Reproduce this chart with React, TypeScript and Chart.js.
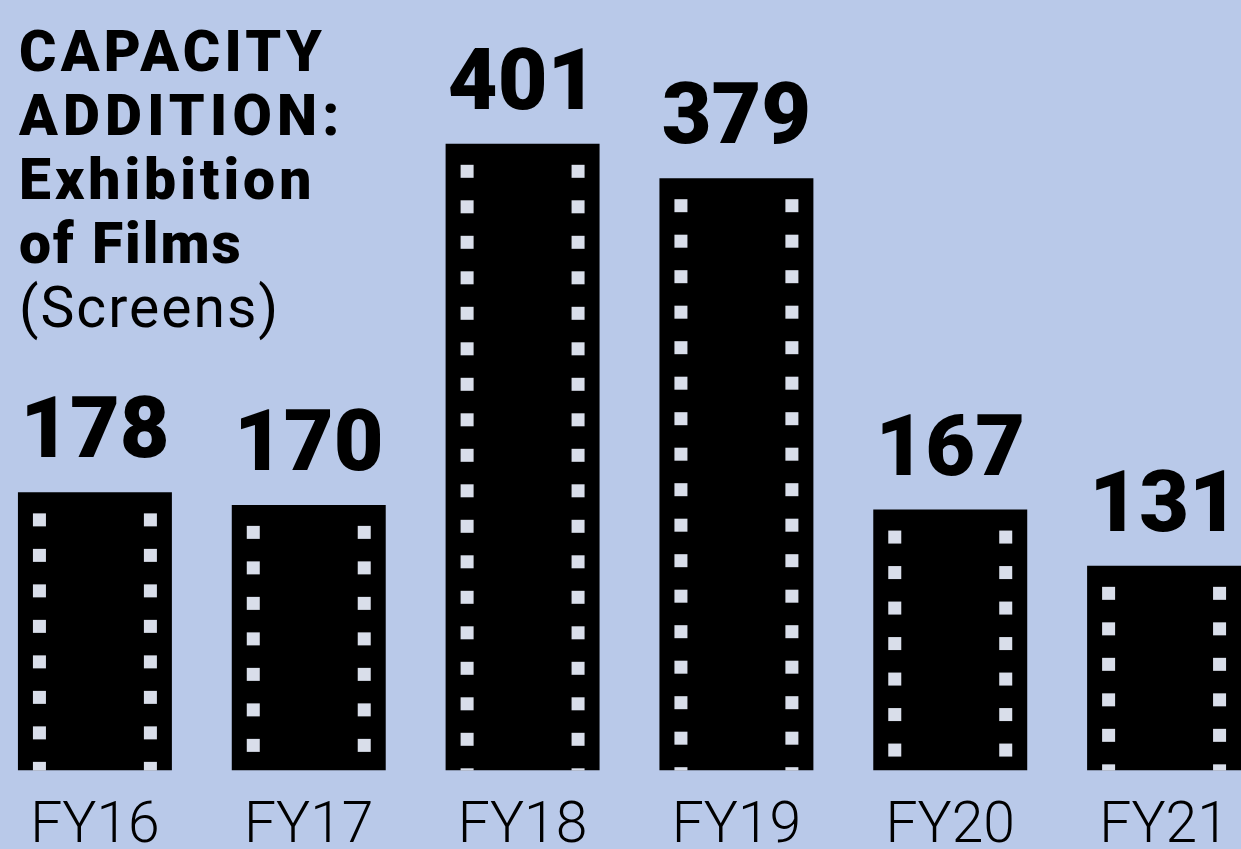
import React, { useEffect, useRef } from "react";
import { Chart, registerables } from "chart.js";

Chart.register(...registerables);

const categories = ["FY16", "FY17", "FY18", "FY19", "FY20", "FY21"];
const screens = [178, 170, 401, 379, 167, 131];
const titleBold = ["CAPACITY", "ADDITION:", "Exhibition", "of Films"];
const titleUnit = "(Screens)";

const BG = "#B9C9E9";
const titleSpacing = [4.3, 5.2, 4, 2];

const filmPlugin = {
  id: "film",
  afterDatasetsDraw(chart: any) {
    const ctx = chart.ctx;
    const meta = chart.getDatasetMeta(0);
    meta.data.forEach((bar: any, i: number) => {
      const p = bar.getProps(["x", "y", "base", "width"], true);
      const left = p.x - p.width / 2;
      const right = p.x + p.width / 2;
      const top = p.y;
      const bottom = p.base;
      ctx.save();
      ctx.beginPath();
      ctx.rect(left, top, right - left, bottom - top);
      ctx.clip();
      ctx.fillStyle = "#D9DEEA";
      const s = 13;
      for (let y = top + 21; y < bottom; y += 35.5) {
        ctx.fillRect(left + 15, y, s, s);
        ctx.fillRect(right - 15 - s, y, s, s);
      }
      ctx.restore();
      ctx.save();
      ctx.fillStyle = "#000";
      ctx.font = "900 86px Roboto";
      ctx.textAlign = "center";
      ctx.textBaseline = "alphabetic";
      ctx.fillText(String(screens[i]), p.x, top - 35);
      ctx.restore();
    });
  },
};

export default function App() {
  const ref = useRef<HTMLCanvasElement>(null);
  useEffect(() => {
    document.body.style.margin = "0";
    const chart = new Chart(ref.current as HTMLCanvasElement, {
      type: "bar",
      data: {
        labels: categories,
        datasets: [
          {
            data: screens,
            backgroundColor: "#000000",
            borderWidth: 0,
            categoryPercentage: 1,
            barPercentage: 0.72,
          },
        ],
      },
      options: {
        animation: false,
        responsive: false,
        maintainAspectRatio: false,
        layout: { padding: 0 },
        plugins: {
          legend: { display: false },
          tooltip: { enabled: false },
          title: { display: false },
        },
        scales: {
          y: {
            display: false,
            min: 0,
            max: 493,
          },
          x: {
            grid: { display: false, drawTicks: false },
            border: { display: false },
            ticks: {
              color: "#000",
              font: { family: "Roboto", size: 57, weight: "300", lineHeight: 1.2 },
              padding: 23,
              maxRotation: 0,
              autoSkip: false,
            },
          },
        },
      },
      plugins: [filmPlugin],
    });
    return () => chart.destroy();
  }, []);

  return (
    <div
      style={{
        position: "fixed",
        left: 0,
        top: 0,
        width: 1241,
        height: 849,
        overflow: "hidden",
        background: BG,
      }}
    >
      <canvas
        ref={ref}
        width={1283}
        height={885}
        style={{ position: "absolute", left: -12, top: 0, width: 1283, height: 885 }}
      />
      <div
        style={{
          position: "absolute",
          left: 19,
          top: 20,
          fontFamily: "Roboto",
          fontSize: 57,
          lineHeight: "64px",
          color: "#000",
        }}
      >
        {titleBold.map((t, i) => (
          <div key={t} style={{ fontWeight: 900, letterSpacing: `${titleSpacing[i]}px` }}>
            {t}
          </div>
        ))}
        <div style={{ fontWeight: 400, letterSpacing: "2px" }}>{titleUnit}</div>
      </div>
    </div>
  );
}
